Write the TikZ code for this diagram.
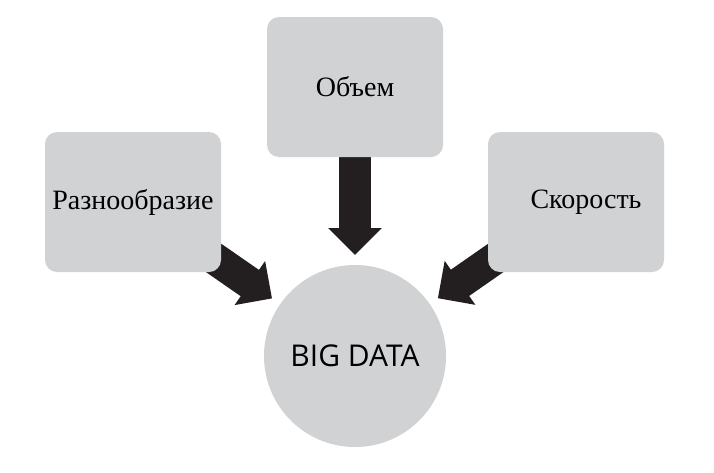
\documentclass[tikz,border=0pt]{standalone}
\usepackage{fontspec}
\setmainfont{Liberation Serif}
\newfontfamily\datafont{Open Sans}
\usetikzlibrary{arrows.meta,backgrounds}
\definecolor{boxgray}{HTML}{D1D2D4}
\definecolor{arrowblack}{HTML}{231F20}
\tikzstyle{vbox}=[fill=boxgray,rounded corners=12pt,minimum width=176pt,minimum height=140pt,inner sep=0pt,font=\fontsize{28}{30}\selectfont]
\tikzstyle{core}=[circle,fill=boxgray,minimum size=182pt,inner sep=0pt,font=\datafont\fontsize{30}{32}\selectfont]
\tikzstyle{bigarrow}=[draw=arrowblack,line width=32pt,-{Triangle[width=52pt,length=27pt]},shorten >=101pt]

\begin{document}
\begin{tikzpicture}[x=1pt,y=-1pt]
  \useasboundingbox (0,0) rectangle (714,472);
  \node [vbox] (volume) at (355,87) {\raisebox{-4pt}{Объем}};
  \node [vbox] (variety) at (133,202) {\raisebox{-6pt}{Разнообразие}};
  \node [vbox] (velocity) at (576,202) {\hspace*{20pt}\raisebox{-7pt}{Скорость}};
  \node [core] (bigdata) at (355,356) {BIG DATA};
  \begin{scope}[on background layer]
    \draw [bigarrow] (volume.center) -- (bigdata.center);
    \draw [bigarrow] (variety.center) -- (bigdata.center);
    \draw [bigarrow] (velocity.center) -- (bigdata.center);
  \end{scope}
\end{tikzpicture}
\end{document}
